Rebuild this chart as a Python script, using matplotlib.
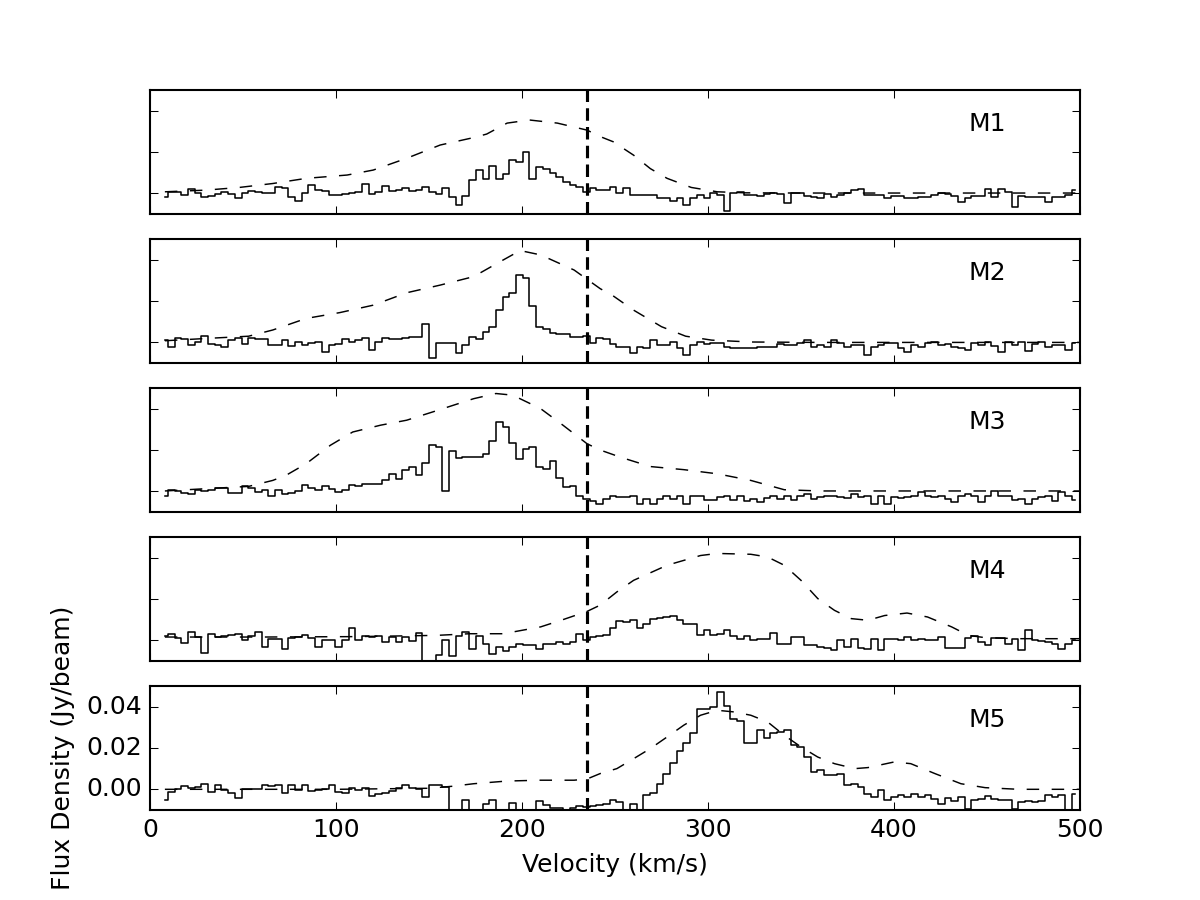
import numpy as np
import matplotlib
matplotlib.use("Agg")
import matplotlib.pyplot as plt

plt.style.use("classic")

# spectral axis (km/s): first channel centre and channel width
chan_start = 7.8
chan_width = 3.6

# observed spectra, mJy per channel
m1_flux = [-1.5, 0.8, 0.5, -0.8, 2, 0.3, -1.5, -1, -0.5, 0.5,
           -0.5, -2, 0.2, 1, 0.5, 0, 0.3, 3, 2.5, -1.5,
           -3.5, 0, 4, 1.5, 1, -0.8, -0.8, -0.5, 0, 0.8,
           4.5, -0.5, 0.5, 3.5, 1, 1.5, 2.5, 1, 1.5, 3,
           0.5, -0.5, 2.5, -1.5, -5.5, -1, 6.5, 11.5, 7, 13.5,
           7, 9.5, 16, 15, 20, 7, 13, 12, 10, 8,
           5.5, 4, 3, 0.5, 2.5, 1.5, 1.5, 3, 0, 2.5,
           -0.8, -0.8, -0.8, -0.8, -2.4, -2.4, -3.5, -2.4, -5.6, -2.4,
           -0.8, -2.4, 0, -0.8, -8.5, 0, 0.5, -0.8, -0.8, -1,
           -0.5, 0, -0.3, -4.8, 0, 0, -1, -1.6, -2.4, -0.5,
           -1.6, -0.8, 0, 1.6, 2, -0.8, -0.8, -0.8, -2, -1,
           -1, -2.4, -2.4, -1.6, -1.6, -0.8, 0, -0.5, -1, -4,
           -2.4, -1.3, -1.3, 2, -1.6, 2.2, 0.5, -6.5, -1.1, -1.6,
           -1.6, -1.6, -4, -1.6, -1.6, -0.8, 1.6]

m2_flux = [1, -2.4, 2, 1.5, -1.3, 0, 3, -0.8, -1.3, -2,
           1, 2.3, -0.8, 2, 1.5, 1.5, -1.3, -1.3, 1, -1.6,
           0.3, -1.3, -0.5, 0.3, -4.5, -1.3, -0.8, 1.5, 0, 1,
           2, -3.7, 0, 2.3, 1.5, 1.5, 2.3, 2.7, 2.7, 8.9,
           -7.7, -0.5, -0.3, -0.3, -5.3, -1.3, 2.7, 1.5, 5.2, 7.3,
           15.6, 22, 23.7, 32.6, 31, 17.6, 7.6, 6.3, 4.7, 4,
           4, 2.4, 2.4, 3, -0.5, 2, 1.5, -1, -2, -2,
           -5, -2, -2.8, 1, -1.3, -1.3, 0, -2.8, -6, -1.3,
           0.3, -1, -0.5, -0.5, -2.4, -2.8, -2.8, -2.8, -2.8, -2,
           -2, -2, -1, -1.3, -1.3, -0.5, 1, -2, -1.3, -2,
           1, -0.5, -2.4, -1.3, -1.3, -6, -2.4, -1.3, -0.5, -0.5,
           -2.8, -4.5, -1.3, -2, -0.5, 0, -1.3, -1, -2, -2.8,
           -3.7, -0.5, -1.3, 0.3, -1.8, -4.5, 0.3, -1.3, 0.3, -4,
           -1, 0.3, -2, -1.3, -1.3, -3.7, -0.5]

m3_flux = [-2, 0.5, 0, -1, -1.5, 0.5, 0, 0.8, 1.8, 1.8,
           -1, -1, 2.4, 1.6, -0.3, 0.5, -2, 0.5, -1.5, -0.8,
           0, 2.9, 1.8, 0.8, 2.4, 1.2, -0.3, 0.5, 2.9, 2.4,
           3.7, 3.4, 3.5, 5.6, 8.2, 6.1, 10.2, 11.8, 7.7, 13.8,
           22.3, 21.5, 0, 19.4, 16.3, 16.6, 16.6, 16.6, 18.2, 24.2,
           33.5, 31, 23.4, 15.8, 20.6, 21.5, 12, 11, 14.5, 6.5,
           2.1, 2.5, -2, -3.9, -4.8, -6, -3.5, -2.4, -2.7, -2.7,
           -2, -6, -3.5, -6, -3.5, -2, -3.5, -2, -6, -2.3,
           -2, -4, -4.3, -2.7, -2, -4, -2, -4.7, -3.5, -5,
           -3, -2, -3.5, -2.4, -4, -2, -1.1, -3.5, -2.7, -2,
           -2, -2.7, -3, -1.1, -2.7, -2, -6, -2, -6.3, -2.7,
           -3, -2.7, -2, -0.3, -2, -2.7, -2, -3.5, -5, -2,
           -1.1, -2.4, -5, -2, 0, -2, -2.4, -4, -3.5, -6,
           -3.5, -2.7, -2.4, -4.7, -0.3, -2, -4]

m4_flux = [2, 3.2, 1.3, -1.3, 4, 1.6, -6, 3.2, 1.6, 1.9,
           2.4, 2.9, 0.3, 1.9, 4, -3, 0.8, 0.8, -4, 1.3,
           1.6, 2.4, 1.3, -3, 0, 0.3, -3, 0.3, 6, 0,
           2, 1.6, 2, -0.8, 1.6, -0.8, 1.6, -0.3, 3.5, -11,
           -11, -7.3, 0, -7.7, 2, 4, -4, 2, -1.6, -6.5,
           -3.2, -5.3, -3.2, -2, -2.4, -2.4, -4, -1.6, -1.6, -0.8,
           -1.6, -0.8, 2.9, 0, 1.6, 2, 2.4, 6, 9.4, 9,
           10, 6, 8, 10.5, 11, 11.3, 11.6, 9.7, 8, 8,
           2.4, 5.2, 2.4, 2.9, 4.8, 1.9, 0.8, 1.9, 0, 0.5,
           0.8, 3.5, -1.6, -1.6, 1.6, 1.6, -2.4, -2.4, -3.2, -3.5,
           -4.5, 0, -3.2, 0.8, -3.5, -4, 0.8, -4.5, 0.8, 0.8,
           0, 1.6, 0, 0.8, 0, 0.3, 1.6, -3.5, -3.5, -3.5,
           1.3, 1.9, -0.8, -2.4, 1.3, 1.3, -1.9, 0.8, -4.8, 4.8,
           0, -0.3, -0.8, -1.6, -4, -1.6, 0]

m5_flux = [-5, -1.3, 0.3, 1.5, 0.8, 1.1, 2.4, -1.3, 1.9, -0.5,
           -1.8, -4, 0.3, 0.3, 0.3, 1.9, 1.5, 1.9, -1.6, 1.9,
           -0.5, 1.9, -1, -0.2, 0.3, 1.9, -1.3, -1.8, 0.8, -0.2,
           0.8, -3.4, -2.1, -1.8, -0.8, 0.8, 1.9, 0.8, 0.3, -3.7,
           1.9, 2.3, 1.1, -15, -15, -5, -15, -15, -7, -5,
           -15, -15, -6.6, -15, -15, -15, -5.8, -7.7, -8.9, -8.9,
           -15, -8.9, -8.2, -8.5, -8.2, -7.7, -7, -5, -6, -15,
           -7, -15, -2.9, -2, 2.7, 7.6, 12.9, 18.4, 22.6, 27,
           38.7, 39, 39.6, 46.8, 40.3, 34.2, 32.9, 22.4, 22.4, 28.5,
           25, 27, 27.7, 28.5, 21.6, 20.5, 15.6, 8.4, 9.2, 6.8,
           6.8, 7.6, 1.9, 2.7, 1.1, -2.1, -3.7, -0.5, -5, -3.7,
           -2.9, -3.7, -2.1, -3.7, -2.9, -4.5, -6.9, -4, -5.6, -3.7,
           -9.4, -5.3, -4.5, -3.4, -4.5, -5.3, -5, -9.4, -6.1, -5.6,
           -6.1, -5.6, -2.9, -3.7, -2.9, -12, -2.1]

# model profiles (dashed), velocity in km/s and flux in mJy
m1_model_vel = [8, 30, 48, 66, 84, 106, 120, 138, 156, 174, 181, 192, 204, 219,
                235, 242, 249, 260, 269, 278, 291, 305, 320, 350, 400, 450, 500]
m1_model_flux = [0.8, 1.6, 2.9, 4.8, 7.3, 8.9, 11.3, 17, 23.4, 27, 28.7, 34, 35.5, 34,
                 30.6, 27.5, 25, 18.5, 12, 7.3, 2.9, 0.8, 0.3, 0.2, 0.2, 0.2, 0.2]

m2_model_vel = [8, 30, 53, 66, 84, 102, 120, 138, 156, 174, 185, 199, 210, 228,
                235, 242, 249, 260, 275, 288, 302, 323, 360, 420, 500]
m2_model_flux = [0.8, 1.9, 3, 6, 11.6, 14.4, 18, 24, 27.7, 31.8, 37.4, 44.4, 42.3, 35,
                 30.5, 26, 22.5, 15.6, 7.6, 3, 1.1, 0.2, 0, 0, 0]

m3_model_vel = [8, 30, 53, 66, 73, 84, 97, 109, 124, 138, 152, 174, 186, 195, 210,
                222, 235, 242, 253, 269, 287, 305, 323, 341, 360, 420, 500]
m3_model_flux = [0.2, 1.3, 2.4, 5.3, 7.7, 13.4, 22.3, 28.7, 32, 34.4, 38.4, 44.8, 47.3, 46.5, 40,
                 32, 23, 20, 16.5, 12, 10.5, 8.5, 5.3, 0.8, 0.2, 0.2, 0.2]

m4_model_vel = [8, 60, 110, 154, 172, 190, 210, 222, 235, 242, 251, 260, 278, 296, 305,
                323, 332, 341, 350, 359, 368, 377, 386, 395, 407, 418, 431, 440, 449, 467, 500]
m4_model_flux = [1.6, 1.6, 1.8, 2.4, 3.2, 3.2, 6.5, 10, 14, 17, 23.4, 29, 36.3, 41, 42,
                 41.6, 40.3, 36.3, 29, 20.2, 14.5, 10.5, 9.7, 12, 13.2, 11.3, 6.5, 2.4, 1.3, 0.8, 0.8]

m5_model_vel = [8, 100, 150, 163, 174, 192, 210, 228, 235, 242, 251, 260, 269, 278, 287, 296,
                305, 314, 323, 332, 341, 350, 359, 368, 379, 386, 400, 409, 422, 436, 449, 467, 500]
m5_model_flux = [0, 0, 0.5, 1.5, 2.7, 4, 4.4, 4.4, 5, 7.6, 10, 14.8, 19.7, 25.3, 31, 35.8,
                 38.2, 37.4, 35.8, 32.6, 26.1, 20.5, 15.6, 12.4, 10, 10.5, 13.2, 12.4, 7.6, 2.7, 0.8, 0, 0]

labels = ["M1", "M2", "M3", "M4", "M5"]
spectra = [m1_flux, m2_flux, m3_flux, m4_flux, m5_flux]
models = [(m1_model_vel, m1_model_flux), (m2_model_vel, m2_model_flux),
          (m3_model_vel, m3_model_flux), (m4_model_vel, m4_model_flux),
          (m5_model_vel, m5_model_flux)]
v_sys = 235

fig, axes = plt.subplots(5, 1, sharex=True, figsize=(8, 6))
fig.patch.set_facecolor("white")

for ax, name, flux, (mv, mf) in zip(axes, labels, spectra, models):
    flux = np.array(flux) / 1000.0
    vel = chan_start + chan_width * np.arange(len(flux))
    ax.step(vel, flux, where="mid", color="k", lw=0.75)
    ax.plot(mv, np.array(mf) / 1000.0, color="k", lw=0.7, ls="--", dashes=(6, 6))
    ax.axvline(v_sys, color="k", lw=1.5, ls="--", dashes=(6, 3))
    ax.set_xlim(0, 500)
    ax.set_ylim(-0.01, 0.05)
    ax.set_yticks([0, 0.02, 0.04])
    ax.text(440, 0.03, name, fontsize=12)
    if ax is not axes[-1]:
        ax.tick_params(labelleft=False)

axes[-1].set_xlabel("Velocity (km/s)")
axes[-1].set_ylabel("Flux Density (Jy/beam)")

plt.savefig("out.png", dpi=150, facecolor="white")
